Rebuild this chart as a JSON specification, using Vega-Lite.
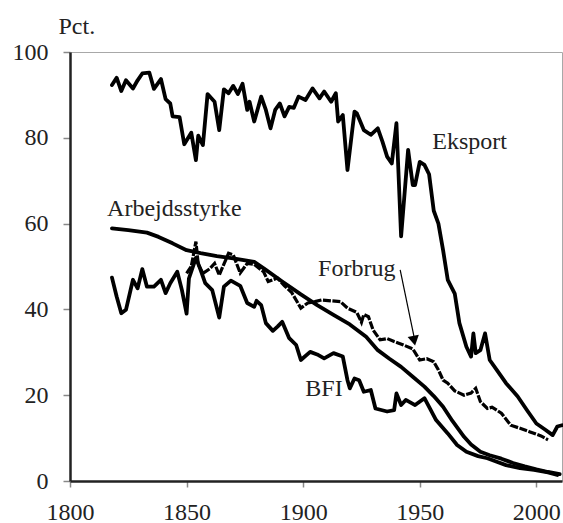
{
  "$schema": "https://vega.github.io/schema/vega-lite/v6.json",
  "width": 492,
  "height": 429,
  "autosize": {"type": "none"},
  "padding": {"left": 70, "top": 52, "right": 1, "bottom": 42},
  "background": "white",
  "config": {
    "font": "Liberation Serif, Times New Roman, serif",
    "view": {"stroke": "#a8a8a8", "strokeWidth": 1},
    "axis": {"grid": false, "labelFont": "Liberation Serif, Times New Roman, serif", "titleFont": "Liberation Serif, Times New Roman, serif"},
    "text": {"font": "Liberation Serif, Times New Roman, serif"}
  },
  "datasets": {
    "series": [
      {"s":"Eksport","year":1818,"value":92.3},{"s":"Eksport","year":1820,"value":94.0},{"s":"Eksport","year":1822,"value":90.9},{"s":"Eksport","year":1824,"value":93.4},{"s":"Eksport","year":1827,"value":91.5},{"s":"Eksport","year":1829,"value":93.4},{"s":"Eksport","year":1831,"value":95.0},{"s":"Eksport","year":1834,"value":95.2},{"s":"Eksport","year":1836,"value":91.4},{"s":"Eksport","year":1839,"value":93.7},{"s":"Eksport","year":1841,"value":89.0},{"s":"Eksport","year":1843,"value":88.0},{"s":"Eksport","year":1844,"value":85.0},{"s":"Eksport","year":1847,"value":84.8},{"s":"Eksport","year":1849,"value":78.5},{"s":"Eksport","year":1852,"value":81.2},{"s":"Eksport","year":1854,"value":74.8},{"s":"Eksport","year":1855,"value":80.5},{"s":"Eksport","year":1857,"value":78.3},{"s":"Eksport","year":1859,"value":90.2},{"s":"Eksport","year":1862,"value":88.4},{"s":"Eksport","year":1864,"value":81.8},{"s":"Eksport","year":1866,"value":91.3},{"s":"Eksport","year":1868,"value":90.4},{"s":"Eksport","year":1870,"value":92.1},{"s":"Eksport","year":1872,"value":90.2},{"s":"Eksport","year":1874,"value":92.6},{"s":"Eksport","year":1876,"value":86.5},{"s":"Eksport","year":1877,"value":88.4},{"s":"Eksport","year":1879,"value":83.8},{"s":"Eksport","year":1882,"value":89.6},{"s":"Eksport","year":1884,"value":86.5},{"s":"Eksport","year":1886,"value":82.2},{"s":"Eksport","year":1888,"value":86.5},{"s":"Eksport","year":1890,"value":88.0},{"s":"Eksport","year":1892,"value":85.0},{"s":"Eksport","year":1894,"value":87.2},{"s":"Eksport","year":1896,"value":87.0},{"s":"Eksport","year":1898,"value":89.6},{"s":"Eksport","year":1901,"value":88.8},{"s":"Eksport","year":1904,"value":91.5},{"s":"Eksport","year":1907,"value":89.2},{"s":"Eksport","year":1909,"value":90.8},{"s":"Eksport","year":1912,"value":88.4},{"s":"Eksport","year":1914,"value":90.4},{"s":"Eksport","year":1915,"value":83.8},{"s":"Eksport","year":1917,"value":85.3},{"s":"Eksport","year":1919,"value":72.5},{"s":"Eksport","year":1922,"value":86.1},{"s":"Eksport","year":1923,"value":85.7},{"s":"Eksport","year":1926,"value":81.8},{"s":"Eksport","year":1929,"value":80.7},{"s":"Eksport","year":1932,"value":82.2},{"s":"Eksport","year":1934,"value":79.1},{"s":"Eksport","year":1936,"value":75.6},{"s":"Eksport","year":1938,"value":74.0},{"s":"Eksport","year":1940,"value":83.4},{"s":"Eksport","year":1942,"value":57.0},{"s":"Eksport","year":1945,"value":77.2},{"s":"Eksport","year":1947,"value":69.0},{"s":"Eksport","year":1948,"value":69.0},{"s":"Eksport","year":1950,"value":74.4},{"s":"Eksport","year":1952,"value":73.7},{"s":"Eksport","year":1954,"value":71.5},{"s":"Eksport","year":1956,"value":63.0},{"s":"Eksport","year":1958,"value":60.0},{"s":"Eksport","year":1960,"value":53.8},{"s":"Eksport","year":1962,"value":46.9},{"s":"Eksport","year":1965,"value":43.7},{"s":"Eksport","year":1967,"value":36.8},{"s":"Eksport","year":1970,"value":31.3},{"s":"Eksport","year":1972,"value":29.0},{"s":"Eksport","year":1973,"value":34.4},{"s":"Eksport","year":1974,"value":29.8},{"s":"Eksport","year":1976,"value":30.5},{"s":"Eksport","year":1978,"value":34.4},{"s":"Eksport","year":1980,"value":28.2},{"s":"Eksport","year":1983,"value":25.9},{"s":"Eksport","year":1987,"value":22.8},{"s":"Eksport","year":1992,"value":19.7},{"s":"Eksport","year":1996,"value":16.5},{"s":"Eksport","year":2000,"value":13.4},{"s":"Eksport","year":2004,"value":11.9},{"s":"Eksport","year":2007,"value":10.7},{"s":"Eksport","year":2009,"value":12.7},{"s":"Eksport","year":2011,"value":13.0},
      {"s":"Arbejdsstyrke","year":1818,"value":58.9},{"s":"Arbejdsstyrke","year":1825,"value":58.5},{"s":"Arbejdsstyrke","year":1833,"value":57.9},{"s":"Arbejdsstyrke","year":1838,"value":56.9},{"s":"Arbejdsstyrke","year":1844,"value":55.4},{"s":"Arbejdsstyrke","year":1850,"value":53.8},{"s":"Arbejdsstyrke","year":1856,"value":53.1},{"s":"Arbejdsstyrke","year":1863,"value":52.4},{"s":"Arbejdsstyrke","year":1870,"value":51.9},{"s":"Arbejdsstyrke","year":1879,"value":51.1},{"s":"Arbejdsstyrke","year":1884,"value":49.2},{"s":"Arbejdsstyrke","year":1891,"value":46.5},{"s":"Arbejdsstyrke","year":1899,"value":43.5},{"s":"Arbejdsstyrke","year":1906,"value":41.0},{"s":"Arbejdsstyrke","year":1913,"value":38.7},{"s":"Arbejdsstyrke","year":1920,"value":36.5},{"s":"Arbejdsstyrke","year":1927,"value":33.6},{"s":"Arbejdsstyrke","year":1932,"value":30.5},{"s":"Arbejdsstyrke","year":1937,"value":28.5},{"s":"Arbejdsstyrke","year":1942,"value":26.6},{"s":"Arbejdsstyrke","year":1947,"value":24.3},{"s":"Arbejdsstyrke","year":1952,"value":22.0},{"s":"Arbejdsstyrke","year":1956,"value":19.8},{"s":"Arbejdsstyrke","year":1960,"value":17.3},{"s":"Arbejdsstyrke","year":1964,"value":14.0},{"s":"Arbejdsstyrke","year":1969,"value":10.3},{"s":"Arbejdsstyrke","year":1972,"value":8.5},{"s":"Arbejdsstyrke","year":1976,"value":6.8},{"s":"Arbejdsstyrke","year":1980,"value":6.0},{"s":"Arbejdsstyrke","year":1985,"value":5.2},{"s":"Arbejdsstyrke","year":1990,"value":4.2},{"s":"Arbejdsstyrke","year":1995,"value":3.4},{"s":"Arbejdsstyrke","year":2000,"value":2.7},{"s":"Arbejdsstyrke","year":2005,"value":2.1},{"s":"Arbejdsstyrke","year":2010,"value":1.6},
      {"s":"BFI","year":1818,"value":47.4},{"s":"BFI","year":1820,"value":43.0},{"s":"BFI","year":1822,"value":39.1},{"s":"BFI","year":1824,"value":39.9},{"s":"BFI","year":1827,"value":46.9},{"s":"BFI","year":1829,"value":44.9},{"s":"BFI","year":1831,"value":49.4},{"s":"BFI","year":1833,"value":45.3},{"s":"BFI","year":1836,"value":45.3},{"s":"BFI","year":1839,"value":46.9},{"s":"BFI","year":1841,"value":43.8},{"s":"BFI","year":1843,"value":46.1},{"s":"BFI","year":1846,"value":48.8},{"s":"BFI","year":1848,"value":44.5},{"s":"BFI","year":1850,"value":39.0},{"s":"BFI","year":1851,"value":47.2},{"s":"BFI","year":1854,"value":52.0},{"s":"BFI","year":1856,"value":49.2},{"s":"BFI","year":1858,"value":46.1},{"s":"BFI","year":1861,"value":44.5},{"s":"BFI","year":1864,"value":38.1},{"s":"BFI","year":1866,"value":45.3},{"s":"BFI","year":1869,"value":46.7},{"s":"BFI","year":1873,"value":45.5},{"s":"BFI","year":1876,"value":41.5},{"s":"BFI","year":1879,"value":40.6},{"s":"BFI","year":1880,"value":42.0},{"s":"BFI","year":1882,"value":41.0},{"s":"BFI","year":1884,"value":36.8},{"s":"BFI","year":1887,"value":35.0},{"s":"BFI","year":1889,"value":36.0},{"s":"BFI","year":1891,"value":37.1},{"s":"BFI","year":1894,"value":33.3},{"s":"BFI","year":1897,"value":31.7},{"s":"BFI","year":1899,"value":28.2},{"s":"BFI","year":1903,"value":30.1},{"s":"BFI","year":1906,"value":29.5},{"s":"BFI","year":1909,"value":28.6},{"s":"BFI","year":1913,"value":29.8},{"s":"BFI","year":1917,"value":29.0},{"s":"BFI","year":1919,"value":23.5},{"s":"BFI","year":1920,"value":21.6},{"s":"BFI","year":1922,"value":23.9},{"s":"BFI","year":1924,"value":23.5},{"s":"BFI","year":1926,"value":20.8},{"s":"BFI","year":1929,"value":21.2},{"s":"BFI","year":1931,"value":16.9},{"s":"BFI","year":1936,"value":16.2},{"s":"BFI","year":1939,"value":16.5},{"s":"BFI","year":1940,"value":20.4},{"s":"BFI","year":1942,"value":17.7},{"s":"BFI","year":1944,"value":18.9},{"s":"BFI","year":1948,"value":17.7},{"s":"BFI","year":1952,"value":19.3},{"s":"BFI","year":1954,"value":17.3},{"s":"BFI","year":1957,"value":14.2},{"s":"BFI","year":1962,"value":11.1},{"s":"BFI","year":1966,"value":8.4},{"s":"BFI","year":1970,"value":6.8},{"s":"BFI","year":1975,"value":5.8},{"s":"BFI","year":1979,"value":5.3},{"s":"BFI","year":1983,"value":4.5},{"s":"BFI","year":1987,"value":3.7},{"s":"BFI","year":1993,"value":3.0},{"s":"BFI","year":1999,"value":2.6},{"s":"BFI","year":2005,"value":2.0},{"s":"BFI","year":2009,"value":1.4}
    ],
    "forbrug": [
      {"year":1850,"value":48.4},{"year":1852,"value":50.0},{"year":1854,"value":55.8},{"year":1855,"value":50.5},{"year":1857,"value":48.4},{"year":1860,"value":49.5},{"year":1862,"value":50.7},{"year":1864,"value":48.0},{"year":1868,"value":53.1},{"year":1870,"value":52.7},{"year":1873,"value":48.5},{"year":1876,"value":50.7},{"year":1879,"value":50.5},{"year":1883,"value":48.8},{"year":1885,"value":46.5},{"year":1889,"value":47.3},{"year":1892,"value":45.5},{"year":1895,"value":44.0},{"year":1899,"value":40.3},{"year":1902,"value":41.5},{"year":1905,"value":41.8},{"year":1908,"value":42.2},{"year":1912,"value":42.0},{"year":1916,"value":41.8},{"year":1919,"value":40.3},{"year":1923,"value":39.3},{"year":1925,"value":37.0},{"year":1926,"value":38.8},{"year":1928,"value":38.3},{"year":1930,"value":35.2},{"year":1933,"value":32.9},{"year":1936,"value":33.2},{"year":1939,"value":32.5},{"year":1943,"value":31.7},{"year":1947,"value":30.8},{"year":1950,"value":28.2},{"year":1953,"value":28.5},{"year":1956,"value":27.8},{"year":1958,"value":25.9},{"year":1960,"value":23.5},{"year":1962,"value":22.8},{"year":1965,"value":21.0},{"year":1969,"value":20.0},{"year":1972,"value":20.5},{"year":1974,"value":21.6},{"year":1976,"value":18.5},{"year":1979,"value":16.9},{"year":1981,"value":17.2},{"year":1985,"value":15.8},{"year":1989,"value":13.0},{"year":1993,"value":12.3},{"year":1997,"value":11.5},{"year":2002,"value":10.5},{"year":2005,"value":9.6}
    ],
    "labels": [
      {"label":"Eksport","year":1955.4,"value":77.4},
      {"label":"Arbejdsstyrke","year":1815.9,"value":61.8},
      {"label":"Forbrug","year":1906.4,"value":47.8},
      {"label":"BFI","year":1900.9,"value":19.8}
    ]
  },
  "layer": [
    {
      "data": {"name": "series"},
      "mark": {"type": "line", "color": "black", "strokeWidth": 3.8, "strokeJoin": "round", "strokeCap": "round"},
      "encoding": {
        "x": {"field": "year", "type": "quantitative",
          "scale": {"domain": [1800, 2011], "nice": false, "zero": false},
          "axis": {"values": [1800, 1850, 1900, 1950, 2000], "format": "d", "title": null,
            "domainColor": "#222", "domainWidth": 2.5, "tickColor": "#888", "tickWidth": 1.5, "tickSize": 6,
            "labelFont": "Liberation Serif, Times New Roman, serif", "labelFontSize": 24, "labelColor": "#222", "labelPadding": 13, "labelFlush": false}},
        "y": {"field": "value", "type": "quantitative",
          "scale": {"domain": [0, 100], "nice": false},
          "axis": {"values": [0, 20, 40, 60, 80, 100], "title": "Pct.",
            "titleAngle": 0, "titleAlign": "left", "titleBaseline": "alphabetic", "titleX": -12, "titleY": -19,
            "titleFont": "Liberation Serif, Times New Roman, serif", "titleFontSize": 24, "titleFontWeight": "normal", "titleColor": "#222",
            "domainColor": "#222", "domainWidth": 2.5, "tickColor": "#888", "tickWidth": 1.5, "tickSize": 7,
            "labelFont": "Liberation Serif, Times New Roman, serif", "labelFontSize": 24, "labelColor": "#222", "labelPadding": 15}},
        "detail": {"field": "s", "type": "nominal"}
      }
    },
    {
      "data": {"name": "forbrug"},
      "mark": {"type": "line", "color": "black", "strokeWidth": 3.2, "strokeDash": [8, 1.5]},
      "encoding": {
        "x": {"field": "year", "type": "quantitative"},
        "y": {"field": "value", "type": "quantitative"}
      }
    },
    {
      "mark": {"type": "rule", "color": "#333", "strokeWidth": 2.5},
      "encoding": {"y": {"datum": 100}}
    },
    {
      "data": {"values": [{"year": 1941.6, "value": 49.2, "year2": 1947.6, "value2": 33.5}]},
      "mark": {"type": "rule", "color": "black", "strokeWidth": 1.2},
      "encoding": {
        "x": {"field": "year", "type": "quantitative"},
        "y": {"field": "value", "type": "quantitative"},
        "x2": {"field": "year2"},
        "y2": {"field": "value2"}
      }
    },
    {
      "data": {"values": [{"year": 1947.6, "value": 32.7}]},
      "mark": {"type": "point", "shape": "triangle-down", "filled": true, "color": "black", "size": 130, "angle": -11, "opacity": 1},
      "encoding": {
        "x": {"field": "year", "type": "quantitative"},
        "y": {"field": "value", "type": "quantitative"}
      }
    },
    {
      "data": {"name": "labels"},
      "mark": {"type": "text", "align": "left", "baseline": "alphabetic", "fontSize": 24, "font": "Liberation Serif, Times New Roman, serif", "color": "#222"},
      "encoding": {
        "x": {"field": "year", "type": "quantitative"},
        "y": {"field": "value", "type": "quantitative"},
        "text": {"field": "label", "type": "nominal"}
      }
    }
  ]
}
